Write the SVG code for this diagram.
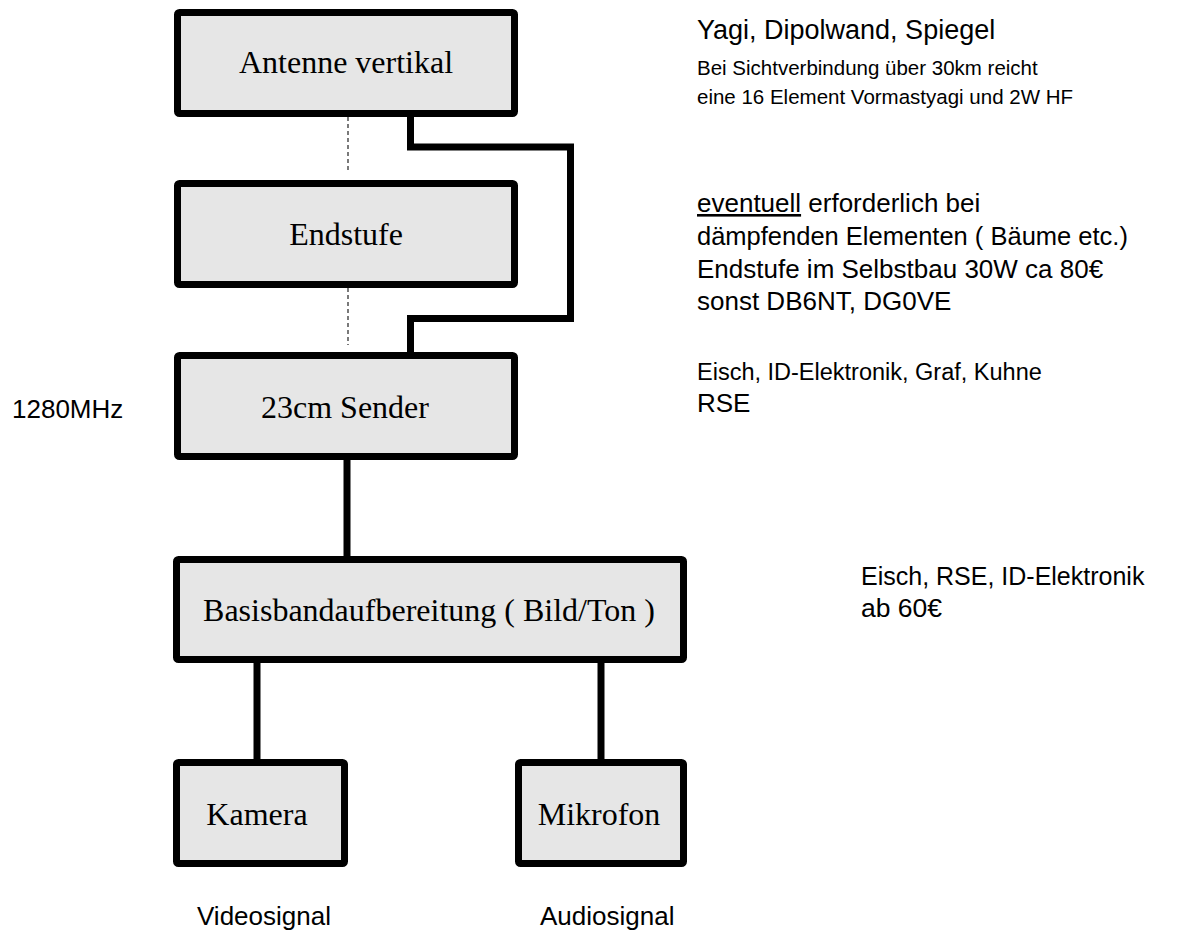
<svg xmlns="http://www.w3.org/2000/svg" width="1181" height="934" viewBox="0 0 1181 934">
<style>
.box{fill:#e6e6e6;stroke:#000;stroke-width:7;stroke-linejoin:round}
.lbl{font-family:"Liberation Serif","Times New Roman",serif;font-size:32px;fill:#000;text-anchor:middle}
.note{font-family:"Liberation Sans",Arial,sans-serif;font-size:26px;fill:#000}
.small{font-family:"Liberation Sans",Arial,sans-serif;font-size:20.5px;fill:#000}
.wire{fill:none;stroke:#000;stroke-width:7;stroke-linejoin:miter}
.dash{fill:none;stroke:#333;stroke-width:1.3;stroke-dasharray:4 3}
</style>
<rect width="1181" height="934" fill="#fff"/>
<g id="connectors">
<line class="dash" x1="348" y1="117" x2="348" y2="173"/>
<line class="dash" x1="348" y1="288" x2="348" y2="345"/>
<path class="wire" d="M410.5,117 V147 H570.5 V318.5 H410.5 V352"/>
<line class="wire" x1="347" y1="460" x2="347" y2="556"/>
<line class="wire" x1="257" y1="663" x2="257" y2="759"/>
<line class="wire" x1="601" y1="663" x2="601" y2="759"/>
</g>
<g id="antenne">
<rect class="box" x="177.5" y="12.5" width="337" height="101" rx="2"/>
<text class="lbl" x="346" y="73">Antenne vertikal</text>
</g>
<g id="endstufe">
<rect class="box" x="177.5" y="183.5" width="337" height="101" rx="2"/>
<text class="lbl" x="346" y="245">Endstufe</text>
</g>
<g id="sender">
<rect class="box" x="177.5" y="355.5" width="337" height="101" rx="2"/>
<text class="lbl" x="345" y="418">23cm Sender</text>
</g>
<g id="basis">
<rect class="box" x="176.5" y="559.5" width="507" height="100" rx="2"/>
<text class="lbl" x="429" y="621">Basisbandaufbereitung ( Bild/Ton )</text>
</g>
<g id="kamera">
<rect class="box" x="176.5" y="762.5" width="168" height="101" rx="2"/>
<text class="lbl" x="257" y="825">Kamera</text>
</g>
<g id="mikrofon">
<rect class="box" x="518.5" y="762.5" width="165" height="101" rx="2"/>
<text class="lbl" x="599" y="825">Mikrofon</text>
</g>
<g id="notes">
<text class="note" x="697" y="39" style="font-size:27px">Yagi, Dipolwand, Spiegel</text>
<text class="small" x="697" y="75">Bei Sichtverbindung über 30km reicht</text>
<text class="small" x="697" y="104">eine 16 Element Vormastyagi und 2W HF</text>
<text class="note" x="697" y="212"><tspan style="text-decoration:underline">eventuell</tspan> erforderlich bei</text>
<text class="note" x="697" y="245" style="font-size:25.5px">dämpfenden Elementen ( Bäume etc.)</text>
<text class="note" x="697" y="278">Endstufe im Selbstbau 30W ca 80€</text>
<text class="note" x="697" y="310">sonst DB6NT, DG0VE</text>
<text class="note" x="697" y="380" style="font-size:23.5px">Eisch, ID-Elektronik, Graf, Kuhne</text>
<text class="note" x="697" y="412">RSE</text>
<text class="note" x="12" y="418">1280MHz</text>
<text class="note" x="861" y="585" style="font-size:25px">Eisch, RSE, ID-Elektronik</text>
<text class="note" x="861" y="617" style="font-size:26.5px">ab 60€</text>
<text class="note" x="197" y="925">Videosignal</text>
<text class="note" x="540" y="925">Audiosignal</text>
</g>
</svg>
